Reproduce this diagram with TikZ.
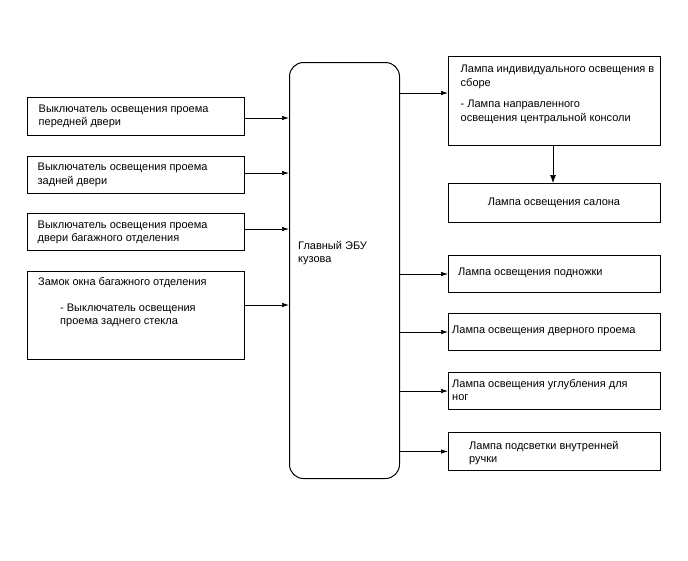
\documentclass[tikz,border=0pt]{standalone}
\usepackage{fontspec}
\setmainfont{Liberation Sans}
\usetikzlibrary{arrows.meta}
\begin{document}
\begin{tikzpicture}[x=1pt,y=-1pt,
  box/.style={draw,line width=1pt,inner sep=0pt,anchor=north west},
  ecubox/.style={draw,line width=1pt,rounded corners=14pt,inner sep=0pt,anchor=north west},
  lbl/.style={anchor=base west,inner sep=0pt,align=left,font=\fontsize{11}{13.5}\selectfont},
  clbl/.style={inner sep=0pt,align=center,font=\fontsize{11}{13.5}\selectfont},
  arr/.style={line width=0.7pt,-{Latex[length=7pt,width=4.5pt]}},
  varr/.style={line width=0.7pt,-{Latex[length=8pt,width=6pt]}}]
\useasboundingbox (0,0) rectangle (688,560);
% left boxes
\node[box,minimum width=217pt,minimum height=38pt] (l1) at (27,97) {};
\node[box,minimum width=217pt,minimum height=37pt] (l2) at (27,156) {};
\node[box,minimum width=217pt,minimum height=37pt] (l3) at (27,213) {};
\node[box,minimum width=217pt,minimum height=88pt] (l4) at (27,271) {};
% ECU
\node[ecubox,minimum width=110pt,minimum height=416pt] (ecu) at (289,62) {};
% right boxes
\node[box,minimum width=212pt,minimum height=89pt] (r1) at (448,56) {};
\node[box,minimum width=212pt,minimum height=39pt] (r2) at (448,183) {};
\node[box,minimum width=212pt,minimum height=37pt] (r3) at (448,255) {};
\node[box,minimum width=212pt,minimum height=37pt] (r4) at (448,313) {};
\node[box,minimum width=212pt,minimum height=37pt] (r5) at (448,372) {};
\node[box,minimum width=212pt,minimum height=38pt] (r6) at (448,432) {};
% texts (anchored at the baseline of the last line)
\node[lbl] (t1) at (38.5,125.5) {Выключатель освещения проема\\передней двери};
\node[lbl] (t2) at (37.5,184) {Выключатель освещения проема\\задней двери};
\node[lbl] (t3) at (37.5,241.5) {Выключатель освещения проема\\двери багажного отделения};
\node[lbl] (t4) at (38,324.5) {Замок окна багажного отделения\\[12.5pt]\hspace*{22pt}- Выключатель освещения\\\hspace*{22pt}проема заднего стекла};
\node[lbl] (tc) at (298,262.5) {Главный ЭБУ\\кузова};
\node[lbl] (tr1) at (460.5,121) {Лампа индивидуального освещения в\\сборе\\[8pt]- Лампа направленного\\освещения центральной консоли};
\node[clbl] (tr2) at (554,202.5) {Лампа освещения салона};
\node[lbl] (tr3) at (458,275) {Лампа освещения подножки};
\node[lbl] (tr4) at (452,333) {Лампа освещения дверного проема};
\node[lbl] (tr5) at (452,400.5) {Лампа освещения углубления для\\ног};
\node[lbl] (tr6) at (469,462.5) {Лампа подсветки внутренней\\ручки};
% connectors
\coordinate (y1) at (0,118);
\coordinate (y2) at (0,173);
\coordinate (y3) at (0,229);
\coordinate (y4) at (0,305);
\coordinate (yr1) at (0,93);
\draw[arr] (l1.east |- y1) -- (ecu.west |- y1);
\draw[arr] (l2.east |- y2) -- (ecu.west |- y2);
\draw[arr] (l3.east |- y3) -- (ecu.west |- y3);
\draw[arr] (l4.east |- y4) -- (ecu.west |- y4);
\draw[arr] (ecu.east |- yr1) -- (r1.west |- yr1);
\draw[arr] (ecu.east |- r3.west) -- (r3.west);
\draw[arr] (ecu.east |- r4.west) -- (r4.west);
\draw[arr] (ecu.east |- r5.west) -- (r5.west);
\draw[arr] (ecu.east |- r6.west) -- (r6.west);
\draw[varr] (r1.south -| 553,0) -- (r2.north -| 553,0);
\end{tikzpicture}
\end{document}
